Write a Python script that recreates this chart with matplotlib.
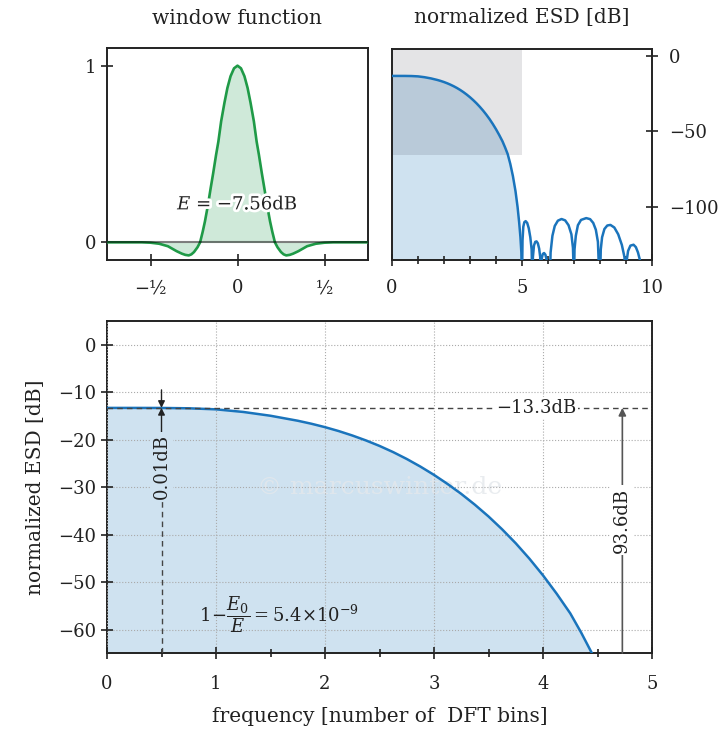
import matplotlib
matplotlib.use("Agg")
import matplotlib.pyplot as plt
import matplotlib.patheffects as pe
from matplotlib.patches import Rectangle

plt.rcParams['font.family'] = ['DejaVu Serif']
plt.rcParams['mathtext.fontset'] = 'dejavuserif'

# ---------------- data ----------------
# window function (time in units of window length)
win_t = [-0.75, -0.55, -0.50, -0.45, -0.40, -0.35, -0.32, -0.30, -0.28, -0.265, -0.25, -0.23,
         -0.215, -0.20, -0.187, -0.17, -0.154, -0.14, -0.123, -0.11, -0.094, -0.075, -0.058,
         -0.04, -0.02, 0.0, 0.02, 0.04, 0.058, 0.075, 0.094, 0.11, 0.123, 0.14, 0.154, 0.17,
         0.187, 0.20, 0.215, 0.23, 0.25, 0.265, 0.28, 0.30, 0.32, 0.35, 0.40, 0.45, 0.50, 0.55, 0.75]
win_w = [0.0, 0.0, -0.002, -0.008, -0.022, -0.050, -0.064, -0.071, -0.074, -0.068, -0.055, -0.028,
         0.0, 0.06, 0.119, 0.21, 0.308, 0.39, 0.496, 0.57, 0.685, 0.79, 0.874,
         0.94, 0.985, 1.0, 0.985, 0.94, 0.874, 0.79, 0.685, 0.57, 0.496, 0.39, 0.308, 0.21,
         0.119, 0.06, 0.0, -0.028, -0.055, -0.068, -0.074, -0.071, -0.064, -0.050, -0.022, -0.008, -0.002, 0.0, 0.0]

# normalized ESD main lobe [dB] vs frequency [bins]
main_f = [0, 0.25, 0.5, 0.75, 1.0, 1.25, 1.5, 1.75, 1.875, 2.0, 2.125, 2.25, 2.375, 2.5, 2.625,
          2.75, 2.875, 3.0, 3.125, 3.25, 3.375, 3.5, 3.625, 3.75, 3.875, 4.0, 4.125, 4.25, 4.35,
          4.45, 4.55, 4.65, 4.75, 4.83, 4.89, 4.94, 4.975, 5.0]
main_db = [-13.3, -13.3, -13.31, -13.38, -13.6, -14.15, -14.95, -16.0, -16.63, -17.35, -18.17,
           -19.1, -20.14, -21.3, -22.6, -24.05, -25.65, -27.4, -29.32, -31.4, -33.68, -36.15,
           -38.86, -41.8, -45.03, -48.55, -52.4, -56.55, -60.6, -65.0, -71.5, -79.5, -89.5,
           -100, -110, -120, -130, -150]

# sidelobes beyond 5 bins [dB]
side_f = [5.0, 5.02, 5.05, 5.09, 5.14, 5.2, 5.26, 5.32, 5.37, 5.40,
          5.42, 5.46, 5.51, 5.56, 5.61, 5.66, 5.70, 5.72,
          5.74, 5.76, 5.80, 5.85, 5.90, 5.95, 5.97,
          6.07, 6.10, 6.17, 6.26, 6.38, 6.52, 6.66, 6.79, 6.90, 6.96, 7.0,
          7.02, 7.07, 7.15, 7.27, 7.47, 7.62, 7.74, 7.84, 7.92, 7.98,
          8.0, 8.03, 8.08, 8.17, 8.28, 8.40, 8.55, 8.70, 8.84, 8.94, 9.0,
          9.03, 9.08, 9.17, 9.29, 9.38, 9.46, 9.52, 9.56]
side_db = [-150, -122, -113, -110, -109.3, -110.5, -114, -120, -128, -150,
           -133, -125.5, -123, -122.7, -124, -127.5, -133, -150,
           -150, -134, -131, -130.4, -131.5, -135, -150,
           -150, -130, -119, -112.5, -109, -107.9, -108.8, -112, -118, -127, -150,
           -128, -119, -112, -108.5, -107.3, -108, -110.5, -115, -123, -150,
           -150, -128, -120, -114.5, -112.2, -111.8, -113.5, -118, -125, -133, -150,
           -135, -129, -125.5, -124.9, -126.5, -130, -134, -137]

E_label = "$E$ = −7.56dB"
peak_db = -13.3
ripple_label = "0.01dB"
peak_label = "−13.3dB"
span_label = "93.6dB"
ratio_label = r"$1\!-\!\dfrac{E_0}{E} = 5.4{\times}10^{-9}$"

# ---------------- styling ----------------
GREEN = '#1f9a47'
GREEN_FILL = '#cfe9d9'
BLUE = '#1a74bc'
BLUE_FILL = '#cfe2f0'
TXT = '#222222'
FS = 13
FS_L = 14.5

fig = plt.figure(figsize=(7.27, 7.34), dpi=100)
W, H = 727, 734
def rect(l, t, r, b):
    return [l / W, 1 - b / H, (r - l) / W, (b - t) / H]

ax1 = fig.add_axes(rect(107, 48, 368, 260))
ax2 = fig.add_axes(rect(392, 49, 652, 260))
ax3 = fig.add_axes(rect(107, 321, 652, 653))

for ax in (ax1, ax2, ax3):
    for s in ax.spines.values():
        s.set_linewidth(1.4)
        s.set_color(TXT)
    ax.tick_params(direction='inout', length=8, width=1.2, colors=TXT,
                   labelsize=FS, labelcolor=TXT)
    ax.tick_params(which='minor', direction='inout', length=6, width=1.2, colors=TXT)

# ---- top left: window function ----
ax1.fill_between(win_t, win_w, 0, color=GREEN_FILL, lw=0)
ax1.plot(win_t, win_w, color=GREEN, lw=1.9, zorder=3)
ax1.axhline(0, color='black', alpha=0.5, lw=1.5, zorder=4)
ax1.set_xlim(-0.75, 0.75)
ax1.set_ylim(-0.1, 1.1)
ax1.set_xticks([-0.5, 0, 0.5])
ax1.set_xticklabels(['−½', '0', '½'])
ax1.set_yticks([0, 1])
ax1.set_yticklabels(['0', '1'])
ax1.tick_params(axis='x', pad=10)
t = ax1.text(0, 0.215, E_label, ha='center', va='center', fontsize=FS, color=TXT, zorder=5)
t.set_path_effects([pe.withStroke(linewidth=4, foreground='white')])
fig.text(237 / W, 1 - 18 / H, "window function", ha='center', va='center', fontsize=FS_L, color=TXT)

# ---- top right: full ESD ----
ax2.fill_between(main_f, main_db, -150, color=BLUE_FILL, lw=0, zorder=1)
ax2.add_patch(Rectangle((0, -65.5), 5, 80, facecolor='#00051a', alpha=0.105,
                        edgecolor='none', zorder=2))
ax2.plot(main_f, main_db, color=BLUE, lw=1.8, zorder=3)
ax2.plot(side_f, side_db, color=BLUE, lw=1.8, zorder=3)
ax2.set_xlim(0, 10)
ax2.set_ylim(-135, 4.5)
ax2.set_xticks([0, 5, 10])
ax2.set_xticks(range(1, 10), minor=True)
ax2.xaxis.set_minor_formatter(plt.NullFormatter())
ax2.yaxis.tick_right()
ax2.set_yticks([0, -50, -100])
ax2.set_yticklabels(['0', '−50', '−100'])
ax2.tick_params(axis='x', pad=10)
ax2.tick_params(axis='y', pad=8)
fig.text(522 / W, 1 - 18 / H, "normalized ESD [dB]", ha='center', va='center', fontsize=FS_L, color=TXT)

# ---- bottom: zoom of main lobe ----
ax3.fill_between(main_f, main_db, -150, color=BLUE_FILL, lw=0, zorder=1)
ax3.plot(main_f, main_db, color=BLUE, lw=1.8, zorder=3)
ax3.set_xlim(0, 5)
ax3.set_ylim(-64.9, 5)
ax3.set_xticks(range(0, 6))
ax3.set_xticks([0.5, 1.5, 2.5, 3.5, 4.5], minor=True)
ax3.set_yticks(range(0, -61, -10))
ax3.set_yticklabels(['0'] + ['−%d' % v for v in range(10, 61, 10)])
ax3.grid(True, which='major', ls=':', color='#aaaaaa', lw=0.8)
ax3.set_axisbelow(False)
ax3.tick_params(axis='x', pad=12)
for gl in ax3.get_xgridlines() + ax3.get_ygridlines():
    gl.set_zorder(2)

# watermark
ax3.text(0.5, 0.5, "© marcuswinter.de", transform=ax3.transAxes, ha='center', va='center',
         fontsize=18, color='#e4e8ec', alpha=0.8, zorder=2.5)

# dashed line at the peak level
ax3.plot([0, 5], [peak_db, peak_db], ls=(0, (4, 3)), color='#444444', lw=1.0, zorder=4)
ax3.text(3.94, peak_db, peak_label, ha='center', va='center', fontsize=FS, color=TXT, zorder=6,
         bbox=dict(facecolor='white', edgecolor='none', pad=1.0))

ybot = ax3.get_ylim()[0]
# ripple annotation at 0.5 bins
ax3.plot([0.5, 0.5], [ybot, -20], ls=(0, (4, 3)), color='#444444', lw=1.0, zorder=4)
ax3.annotate('', xy=(0.5, peak_db), xytext=(0.5, -9.5),
             arrowprops=dict(arrowstyle='-|>', color=TXT, lw=1.0, mutation_scale=10,
                             shrinkA=0, shrinkB=0), zorder=5)
ax3.annotate('', xy=(0.5, peak_db), xytext=(0.5, -18.5),
             arrowprops=dict(arrowstyle='-|>', color=TXT, lw=1.0, mutation_scale=10,
                             shrinkA=0, shrinkB=0), zorder=5)
ax3.text(0.5, -25.6, ripple_label, rotation=90, ha='center', va='center', fontsize=FS,
         color=TXT, zorder=6, bbox=dict(facecolor=BLUE_FILL, edgecolor='none', pad=1.5))

# span annotation
ax3.annotate('', xy=(4.728, peak_db), xytext=(4.728, ybot),
             arrowprops=dict(arrowstyle='-|>', color='#555555', lw=1.2, mutation_scale=11,
                             shrinkA=0, shrinkB=0), zorder=5)
ax3.text(4.728, -36.9, span_label, rotation=90, ha='center', va='center', fontsize=FS,
         color=TXT, zorder=6, bbox=dict(facecolor='white', edgecolor='none', pad=2.0))

ax3.text(1.58, -56.8, ratio_label, ha='center', va='center', fontsize=FS, color=TXT, zorder=6)

ax3.set_xlabel("frequency [number of  DFT bins]", fontsize=FS_L, color=TXT, labelpad=10)
ax3.set_ylabel("normalized ESD [dB]", fontsize=FS_L, color=TXT, labelpad=10)

fig.savefig("out.png", dpi=100)
